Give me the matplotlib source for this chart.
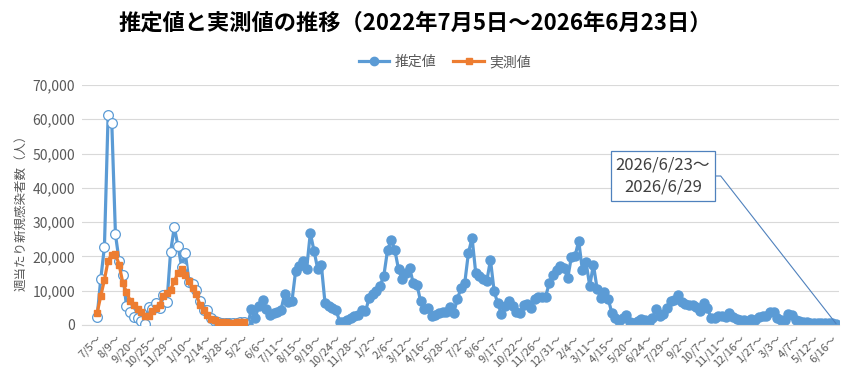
import numpy as np
import matplotlib.pyplot as plt
from matplotlib.lines import Line2D

plt.rcParams["font.family"] = ["Noto Sans CJK JP", "DejaVu Sans"]

title = "推定値と実測値の推移（2022年7月5日～2026年6月23日）"

# one label every 5 weeks on the category axis
week_labels = [
    "7/5～", "8/9～", "9/20～", "10/25～", "11/29～", "1/10～", "2/14～", "3/28～",
    "5/2～", "6/6～", "7/11～", "8/15～", "9/19～", "10/24～", "11/28～", "1/2～",
    "2/6～", "3/12～", "4/16～", "5/28～", "7/2～", "8/6～", "9/17～", "10/22～",
    "11/26～", "12/31～", "2/4～", "3/11～", "4/15～", "5/20～", "6/24～", "7/29～",
    "9/2～", "10/7～", "11/11～", "12/16～", "1/27～", "3/3～", "4/7～", "5/12～",
    "6/16～",
]

# weekly estimated cases (推定値)
estimated = [
    2300, 13400, 22800, 61200, 59000, 26400, 18700, 14600, 5600, 3900,
    2400, 1950, 1250, 400, 5350, 4600, 6300, 4900, 8750, 6600,
    21400, 28500, 23100, 17000, 20900, 12600, 11900, 10200, 6900, 4450,
    4400, 2000, 1100, 900, 700, 600, 500, 700, 600, 800,
    900, 300, 4600, 2100, 5600, 7200, 4600, 2800, 3600, 3700,
    4300, 8900, 6600, 6900, 15700, 17200, 18600, 16400, 26800, 21700,
    16400, 17400, 6400, 5400, 4900, 4300, 1000, 900, 1600, 1900,
    2500, 3000, 4500, 4000, 7800, 8900, 9900, 11500, 14400, 21800,
    24900, 21800, 16200, 13300, 15100, 16700, 12200, 11800, 6900, 4600,
    5000, 2700, 2800, 3400, 3800, 3700, 5200, 3500, 7600, 10800,
    12200, 21000, 25400, 15100, 14200, 13500, 12800, 19000, 9800, 6300,
    3100, 5400, 7000, 5400, 3700, 3500, 5700, 6200, 5100, 7600,
    8300, 8300, 8300, 12200, 14700, 16000, 17100, 16600, 13600, 19800,
    20100, 24500, 16000, 18300, 11400, 17600, 10600, 8000, 9700, 7700,
    3600, 2000, 1200, 2000, 3000, 1000, 700, 1200, 1700, 1500,
    1000, 1900, 4600, 2700, 3200, 5000, 7000, 7300, 8700, 6600,
    6000, 5900, 5700, 5300, 4000, 6500, 4900, 2000, 2100, 2700,
    2500, 2400, 3400, 2400, 1800, 1500, 1500, 1000, 1700, 1500,
    2400, 2500, 2700, 3900, 3900, 2100, 1500, 1500, 3100, 2900,
    1500, 1200, 1000, 900, 700, 700, 600, 600, 500, 500,
    500, 400,
]

# weekly observed cases (実測値), only for the first weeks
observed = [
    3500, 8400, 13200, 18800, 20500, 20700, 17600, 12300, 9600, 7100,
    5900, 4700, 3800, 2600, 2600, 4000, 5000, 5900, 8400, 9300,
    10300, 12700, 15200, 16400, 14700, 12700, 10800, 8900, 5900, 4500,
    3000, 1700, 1400, 900, 900, 800, 700, 700, 800, 900,
    1000,
]

BLUE = "#5b9bd5"
ORANGE = "#ed7d31"
GRAY = "#595959"
GRID = "#d9d9d9"
BOX = "#4f81bd"

fig = plt.figure(figsize=(8.58, 3.76), dpi=100)
ax = fig.add_axes([82 / 858, 1 - 325 / 376, 757 / 858, 240 / 376])

x = np.arange(len(estimated))
n_obs = len(observed)

ax.plot(x, estimated, color=BLUE, lw=2.3, marker="o", ms=6.5,
        markevery=list(range(n_obs, len(x))), zorder=2)
# weeks that also have observed values: open circles
ax.plot(x[:n_obs], estimated[:n_obs], ls="none", marker="o", ms=7,
        mfc="white", mec=BLUE, mew=0.9, zorder=3)
ax.plot(x[:n_obs], observed, color=ORANGE, lw=2.3, marker="s", ms=4.8, zorder=4)

ax.set_xlim(-4.1, len(x) - 0.2)
ax.set_ylim(0, 70000)
yt = np.arange(0, 70001, 10000)
ax.set_yticks(yt)
ax.set_yticklabels([f"{v:,}" for v in yt], fontsize=10, color=GRAY)
ax.set_xticks(np.arange(len(week_labels)) * 5)
ax.set_xticklabels(week_labels, rotation=45, ha="right", rotation_mode="anchor",
                   fontsize=8, color=GRAY)
ax.tick_params(axis="both", length=0)
ax.tick_params(axis="x", pad=6)
ax.tick_params(axis="y", pad=5)
ax.yaxis.grid(True, color=GRID, lw=0.8)
ax.set_axisbelow(True)
for s in ["top", "left", "right"]:
    ax.spines[s].set_visible(False)
ax.spines["bottom"].set_color(GRID)

fig.text(21 / 858, 1 - 210 / 376, "週当たり新規感染者数（人）", rotation=90,
         ha="center", va="center", fontsize=9, color=GRAY)
fig.text(415 / 858, 1 - 23 / 376, title, ha="center", va="center",
         fontsize=16, fontweight="bold", color="black")

handles = [
    Line2D([], [], color=BLUE, lw=2.3, marker="o", ms=6),
    Line2D([], [], color=ORANGE, lw=2.3, marker="s", ms=4.8),
]
fig.legend(handles, ["推定値", "実測値"], loc="center",
           bbox_to_anchor=(445 / 858, 1 - 62 / 376), ncol=2, frameon=False,
           fontsize=10, labelcolor=GRAY, handlelength=2.2, columnspacing=1.2,
           handletextpad=0.4)

ax.annotate("2026/6/23～\n2026/6/29", xy=(x[-1], estimated[-1]),
            xytext=(663 / 858, 1 - 176 / 376), textcoords="figure fraction",
            ha="center", va="center", fontsize=12, color="#404040",
            linespacing=1.45,
            bbox=dict(boxstyle="square,pad=0.28", fc="white", ec=BOX, lw=0.9),
            arrowprops=dict(arrowstyle="-", color=BOX, lw=0.8, relpos=(1, 0.5),
                            shrinkA=0, shrinkB=0,
                            connectionstyle="angle,angleA=0,angleB=-52,rad=0"))

fig.savefig("out.png", dpi=100)
